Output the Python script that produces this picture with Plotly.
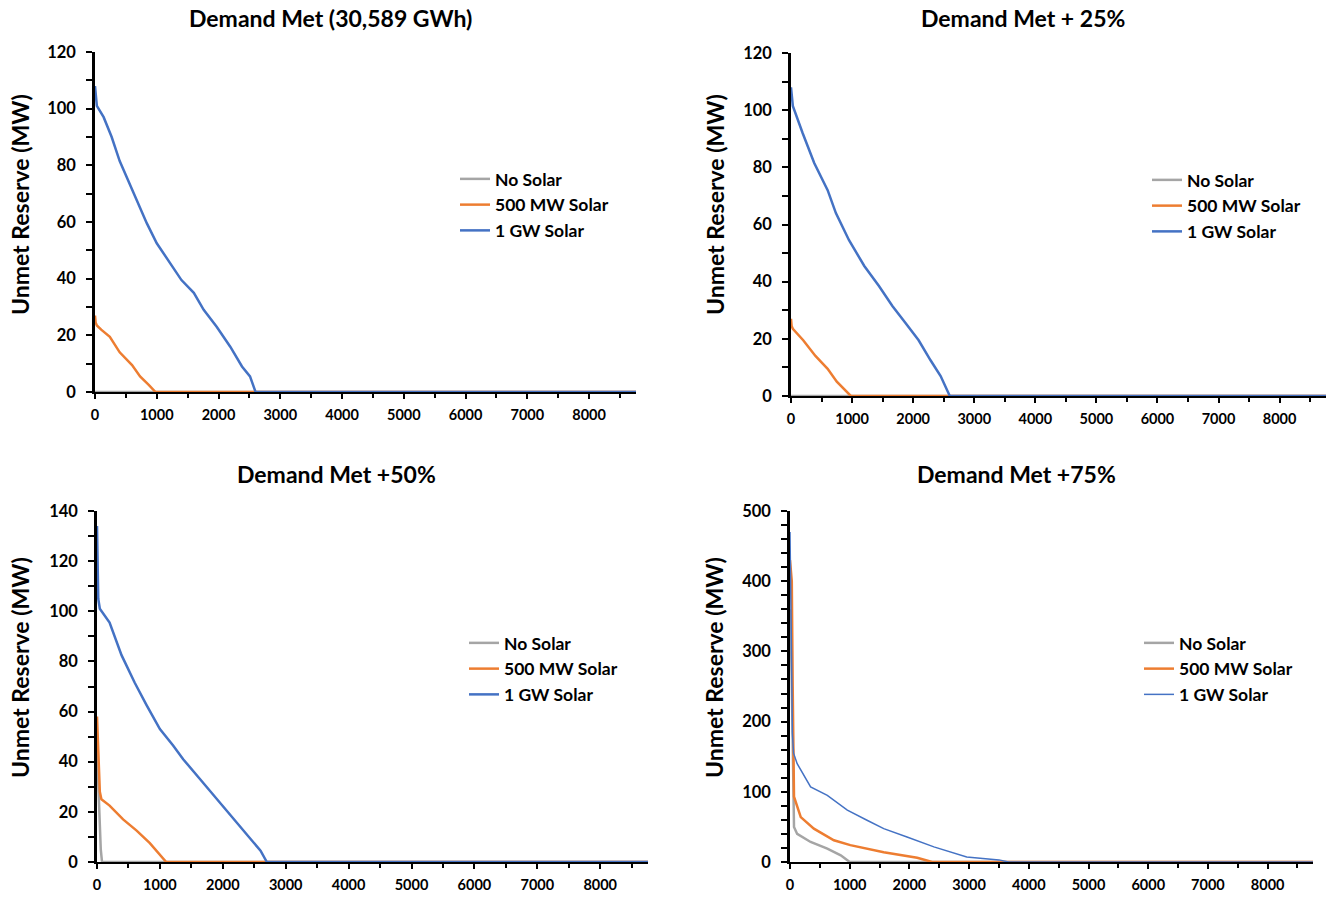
import plotly.graph_objects as go

W, H = 1330, 897
OFF = 0  # page body margin removed below via post_script

# ---------------- data (hours of year vs unmet reserve MW) ----------------
series_names = ["No Solar", "500 MW Solar", "1 GW Solar"]
panel_titles = ["Demand Met (30,589 GWh)", "Demand Met + 25%", "Demand Met +50%", "Demand Met +75%"]
x_tick_vals = [0, 1000, 2000, 3000, 4000, 5000, 6000, 7000, 8000]
hours_in_year = 8760

# Panel 1: Demand Met
p1_none_x = [0, 8760]
p1_none_y = [0, 0]
p1_500_x = [0, 10, 30, 100, 240, 400, 600, 730, 870, 980, 8760]
p1_500_y = [27, 24.5, 23.5, 22, 19.5, 14, 9.5, 5.5, 2.5, 0, 0]
p1_1g_x = [0, 15, 30, 140, 270, 400, 600, 730, 840, 1000, 1220, 1400, 1600, 1760, 1970, 2190, 2380, 2510, 2600, 8760]
p1_1g_y = [108, 103, 101, 97, 90, 81.5, 71.5, 64.5, 59.5, 52.5, 45.5, 39.5, 35, 29, 23, 16, 9, 5.5, 0, 0]

# Panel 2: Demand Met + 25%
p2_none_x = [0, 8760]
p2_none_y = [0, 0]
p2_500_x = [0, 10, 30, 200, 400, 600, 750, 900, 980, 8760]
p2_500_y = [27, 24.5, 23.5, 19.5, 14, 9.5, 5, 1.5, 0, 0]
p2_1g_x = [0, 15, 30, 190, 380, 600, 735, 950, 1200, 1440, 1660, 1875, 2090, 2285, 2450, 2600, 8760]
p2_1g_y = [108, 103, 101.5, 92, 81.5, 72, 64, 54.5, 45.5, 38.5, 31.5, 25.5, 19.5, 12.5, 7, 0, 0]

# Panel 3: Demand Met +50%
p3_none_x = [0, 20, 40, 60, 80, 8760]
p3_none_y = [45, 30, 15, 5, 0, 0]
p3_500_x = [0, 15, 30, 45, 70, 200, 415, 630, 840, 1000, 1100, 8760]
p3_500_y = [58, 45, 34, 28, 25, 22.5, 17, 12.5, 7.5, 3, 0, 0]
p3_1g_x = [0, 10, 20, 45, 200, 390, 600, 790, 1000, 1210, 1370, 1690, 1960, 2220, 2440, 2600, 2700, 8760]
p3_1g_y = [134, 112, 105, 101, 95.5, 82.5, 71.5, 62.5, 53, 46.5, 41, 31.5, 23.5, 15.5, 9, 4.5, 0, 0]

# Panel 4: Demand Met +75%
p4_none_x = [0, 20, 40, 55, 67, 120, 345, 625, 850, 1000, 8760]
p4_none_y = [360, 300, 200, 90, 50, 40, 28.5, 19, 9.5, 0, 0]
p4_500_x = [0, 30, 45, 55, 67, 180, 400, 735, 1010, 1570, 2130, 2380, 8760]
p4_500_y = [430, 400, 250, 150, 93, 64, 47.5, 31, 24, 14, 6, 0, 0]
p4_1g_x = [0, 10, 25, 40, 60, 120, 345, 625, 960, 1290, 1570, 1960, 2410, 2960, 3500, 3660, 8760]
p4_1g_y = [470, 420, 300, 183, 155, 140, 107, 95, 74, 59.5, 47.5, 35.5, 21.5, 7, 3, 0, 0]

y_ranges = [120, 120, 140, 500]
y_dticks = [20, 20, 20, 100]
y_minor = [10, 10, 10, 20]

# ---------------- styling ----------------
colors = ["#A5A5A5", "#ED7D31", "#4472C4"]
FONT = "Lato"

panels = [
    ((p1_none_x, p1_none_y), (p1_500_x, p1_500_y), (p1_1g_x, p1_1g_y)),
    ((p2_none_x, p2_none_y), (p2_500_x, p2_500_y), (p2_1g_x, p2_1g_y)),
    ((p3_none_x, p3_none_y), (p3_500_x, p3_500_y), (p3_1g_x, p3_1g_y)),
    ((p4_none_x, p4_none_y), (p4_500_x, p4_500_y), (p4_1g_x, p4_1g_y)),
]
widths = [[2.5, 2.5, 2.5], [2.5, 2.5, 2.5], [2.5, 2.5, 2.5], [2.5, 2.5, 1.5]]

# pixel geometry: (x0, x1, ytop, ybottom)
geom = [(95, 636, 52, 392), (791, 1326, 53, 396), (97, 648, 511, 862), (790, 1313, 511, 862)]
title_pos = [(330, 18), (1023, 18), (336, 474), (1016, 474)]
ytitle_pos = [(20, 205), (715, 205), (20, 668), (714, 668)]
legend_pos = [(455, 161), (1147, 162), (464, 625), (1139, 625)]


def px(xp):
    return (xp - OFF) / W


def py(yp):
    return 1 - (yp - OFF) / H


fig = go.Figure()
legend_keys = ["legend", "legend2", "legend3", "legend4"]

for i, panel in enumerate(panels):
    ax = "" if i == 0 else str(i + 1)
    for j, (xs, ys) in enumerate(panel):
        fig.add_trace(go.Scatter(
            x=xs, y=ys, mode="lines", name=series_names[j],
            line=dict(color=colors[j], width=widths[i][j]),
            xaxis="x" + ax, yaxis="y" + ax,
            legend=legend_keys[i], legendgroup=f"g{i}{j}",
        ))

layout = dict(
    width=W, height=H, margin=dict(l=0, r=0, t=0, b=0, autoexpand=False),
    paper_bgcolor="white", plot_bgcolor="white",
    font=dict(family=FONT, color="black"),
    annotations=[],
)

for i in range(4):
    ax = "" if i == 0 else str(i + 1)
    x0, x1, yt, yb = geom[i]
    layout["xaxis" + ax] = dict(
        domain=[px(x0), px(x1)], range=[0, hours_in_year], anchor="y" + ax,
        tickvals=x_tick_vals, showline=True, linecolor="black", linewidth=2,
        ticks="outside", ticklen=5, tickwidth=2, tickcolor="black",
        minor=dict(tickvals=[v + 500 for v in x_tick_vals], ticks="outside", ticklen=4, tickwidth=2, tickcolor="black"),
        showgrid=False, zeroline=False, ticklabelstandoff=4,
        tickfont=dict(family=FONT, size=14.5, weight="bold", color="black"),
    )
    layout["yaxis" + ax] = dict(
        domain=[py(yb), py(yt)], range=[0, y_ranges[i]], anchor="x" + ax,
        dtick=y_dticks[i], showline=True, linecolor="black", linewidth=2.5,
        ticks="outside", ticklen=6, tickwidth=2, tickcolor="black",
        minor=dict(dtick=y_minor[i], ticks="outside", ticklen=6, tickwidth=2, tickcolor="black"),
        showgrid=False, zeroline=False, ticklabelstandoff=7,
        tickfont=dict(family=FONT, size=16.5, weight="bold", color="black"),
    )
    lx, ly = legend_pos[i]
    layout[legend_keys[i]] = dict(
        x=px(lx), y=py(ly), xanchor="left", yanchor="top",
        bgcolor="rgba(0,0,0,0)", borderwidth=0, tracegroupgap=0,
        font=dict(family=FONT, size=17.5, weight="bold", color="black"),
    )
    tx, ty = title_pos[i]
    layout["annotations"].append(dict(
        text=panel_titles[i], x=px(tx), y=py(ty), xref="paper", yref="paper",
        xanchor="center", yanchor="middle", showarrow=False, borderpad=0,
        font=dict(family=FONT, size=23, weight="bold", color="black"),
    ))
    yx, yy = ytitle_pos[i]
    layout["annotations"].append(dict(
        text="Unmet Reserve (MW)", x=px(yx), y=py(yy), xref="paper", yref="paper",
        xanchor="center", yanchor="middle", showarrow=False, textangle=-90, borderpad=0,
        font=dict(family=FONT, size=23, weight="bold", color="black"),
    ))

fig.update_layout(**layout)
fig.write_html("out.html", config={"displayModeBar": False},
               post_script="document.body.style.margin='0';")
